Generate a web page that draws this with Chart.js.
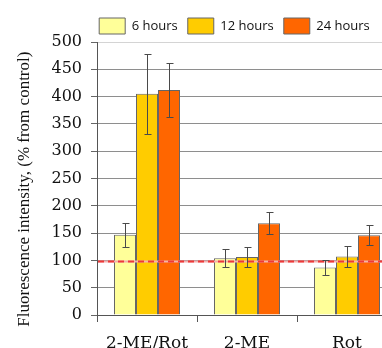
<!DOCTYPE html>
<html>
<head>
<meta charset="utf-8">
<script src="https://cdn.jsdelivr.net/npm/chart.js@4/dist/chart.umd.min.js"></script>
<style>
  html, body { margin: 0; padding: 0; background: #fff; overflow: hidden; }
  #wrap { width: 382px; height: 348px; overflow: hidden; position: relative; }
  canvas { display: block; }
</style>
</head>
<body>
<div id="wrap"><canvas id="chart" width="469" height="348"></canvas></div>
<script>
// Treatment groups along the x axis
const categories = ['2-ME/Rot', '2-ME', 'Rot'];

// Fluorescence intensity (% of control) and standard errors per exposure time
const hours6 = [147, 104, 87];
const hours6Err = [22, 16, 13];
const hours12 = [405, 106, 107];
const hours12Err = [73, 19, 19];
const hours24 = [412, 168, 146];
const hours24Err = [49, 20, 18];

const seriesLabels = ['6 hours', '12 hours', '24 hours'];
const yTicks = [0, 50, 100, 150, 200, 250, 300, 350, 400, 450, 500];
const controlLevel = 98;

const errors = [hours6Err, hours12Err, hours24Err];

// Error bars with caps, plus the dashed control reference line
const overlays = {
  id: 'overlays',
  afterDatasetsDraw(chart) {
    const { ctx, chartArea, scales } = chart;
    const y = scales.y;
    ctx.save();
    // control line
    const yc = Math.round(y.getPixelForValue(controlLevel)) + 0.5;
    ctx.beginPath();
    ctx.strokeStyle = '#f4b0b0';
    ctx.lineWidth = 2;
    ctx.moveTo(chartArea.left + 1, yc);
    ctx.lineTo(chartArea.right, yc);
    ctx.stroke();
    ctx.beginPath();
    ctx.setLineDash([6, 4]);
    ctx.strokeStyle = '#ee3a3a';
    ctx.moveTo(chartArea.left + 1, yc);
    ctx.lineTo(chartArea.right, yc);
    ctx.stroke();
    ctx.setLineDash([]);
    // error bars
    ctx.strokeStyle = '#4a4a4a';
    ctx.lineWidth = 1;
    chart.data.datasets.forEach((ds, i) => {
      const meta = chart.getDatasetMeta(i);
      meta.data.forEach((bar, j) => {
        const v = ds.data[j];
        const e = errors[i][j];
        const x = Math.round(bar.x) + 0.5;
        const yt = Math.round(y.getPixelForValue(v + e)) + 0.5;
        const yb = Math.round(y.getPixelForValue(v - e)) + 0.5;
        ctx.beginPath();
        ctx.moveTo(x, yt); ctx.lineTo(x, yb);
        ctx.moveTo(x - 3, yt); ctx.lineTo(x + 4, yt);
        ctx.moveTo(x - 3, yb); ctx.lineTo(x + 4, yb);
        ctx.stroke();
      });
    });
    ctx.restore();
  }
};

const fills = ['#ffff99', '#ffcc00', '#ff6600'];
const values = [hours6, hours12, hours24];

new Chart(document.getElementById('chart'), {
  type: 'bar',
  data: {
    labels: categories,
    datasets: seriesLabels.map((label, i) => ({
      label,
      data: values[i],
      backgroundColor: fills[i],
      borderColor: '#666',
      borderWidth: 1,
      barThickness: 22,
      inflateAmount: 0,
      yAxisID: 'y'
    }))
  },
  options: {
    responsive: false,
    animation: false,
    devicePixelRatio: 1,
    layout: { padding: { top: 8, left: 0, right: 0, bottom: 0 } },
    plugins: {
      tooltip: { enabled: false },
      legend: {
        position: 'top',
        maxHeight: 34,
        labels: {
          boxWidth: 26,
          boxHeight: 16,
          padding: 10,
          color: '#111',
          font: { family: '"Open Sans"', size: 13 }
        }
      }
    },
    scales: {
      x: {
        position: 'bottom',
        afterFit(s) { s.height = 33; },
        grid: {
          display: true,
          drawOnChartArea: false,
          drawTicks: true,
          tickLength: 7,
          color: '#555',
          offset: true
        },
        border: { display: true, color: '#555', width: 1 },
        ticks: {
          color: '#111',
          padding: 11,
          font: { family: '"DejaVu Serif"', size: 17 }
        }
      },
      y: {
        position: 'left',
        min: 0,
        max: 500,
        afterFit(s) { s.width = 97; },
        afterBuildTicks(s) { s.ticks = yTicks.map(v => ({ value: v })); },
        grid: {
          color: (c) => (c.tick && c.tick.value === 500 ? '#d4d4d4' : '#8e8e8e'),
          tickColor: '#666',
          tickLength: 6,
          lineWidth: 1
        },
        border: { display: true, color: '#555', width: 1 },
        ticks: {
          color: '#111',
          padding: 9,
          font: { family: '"DejaVu Serif"', size: 16 }
        },
        title: {
          display: true,
          // trailing spaces nudge the centred, rotated title down a little
          text: 'Fluorescence intensity, (% from control)     ',
          color: '#111',
          padding: { top: 14, bottom: 0 },
          font: { family: '"Liberation Serif"', size: 17 }
        }
      },
      yRight: {
        type: 'linear',
        position: 'right',
        display: true,
        afterFit(s) { s.width = 72; },
        grid: { display: false },
        border: { display: false },
        ticks: { display: false }
      }
    }
  },
  plugins: [overlays]
});
</script>
</body>
</html>
